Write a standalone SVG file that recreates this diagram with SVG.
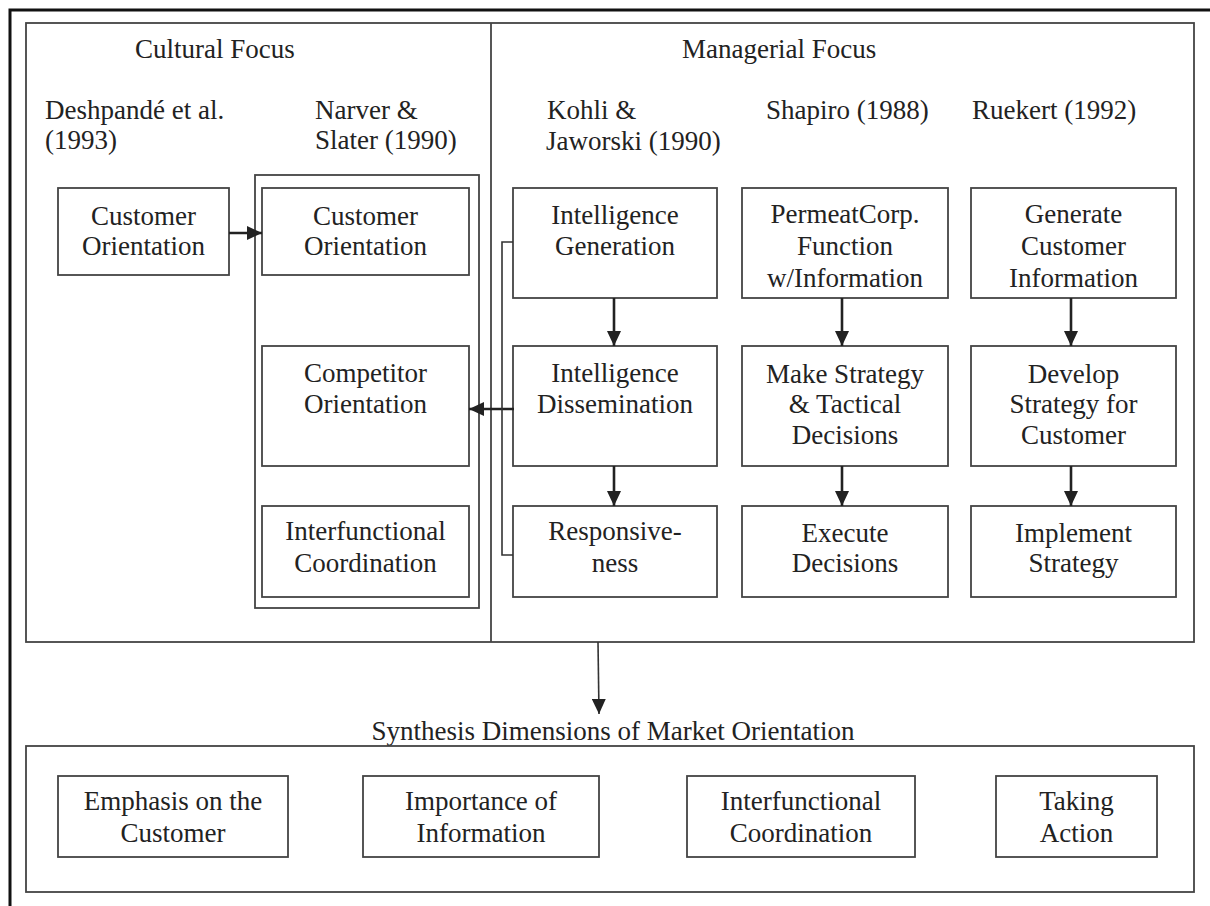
<svg xmlns="http://www.w3.org/2000/svg" width="1210" height="906" viewBox="0 0 1210 906">
<style>
text{font-family:"Liberation Serif","Times New Roman",serif;font-size:27px;fill:#222}
.c{text-anchor:middle}
.box{fill:#fff;stroke:#444;stroke-width:1.8}
.panel{fill:none;stroke:#444;stroke-width:1.8}
.arr{stroke:#222;stroke-width:2.6;fill:none}
.thin{stroke:#333;stroke-width:1.6;fill:none}
</style>
<defs>
<marker id="ah" markerUnits="userSpaceOnUse" markerWidth="16" markerHeight="14" refX="15" refY="7" orient="auto">
<path d="M0,0 L15,7 L0,14 Z" fill="#222"/>
</marker>
</defs>
<rect width="1210" height="906" fill="#fff"/>
<!-- outer frame -->
<path d="M10,906 V10 H1210" fill="none" stroke="#111" stroke-width="3"/>
<!-- panels -->
<g id="top-panel">
<rect class="panel" x="26" y="23" width="1168" height="619"/>
<line class="panel" x1="491" y1="23" x2="491" y2="642"/>
<text x="135" y="58">Cultural Focus</text>
<text x="682" y="58">Managerial Focus</text>
<text x="45" y="119">Deshpandé et al.</text>
<text x="45" y="149">(1993)</text>
<text x="315" y="119">Narver &amp;</text>
<text x="315" y="149">Slater (1990)</text>
<text x="547" y="119">Kohli &amp;</text>
<text x="546" y="150">Jaworski (1990)</text>
<text x="766" y="119">Shapiro (1988)</text>
<text x="972" y="119">Ruekert (1992)</text>
</g>
<g id="narver-group"><rect class="panel" x="255" y="175" width="224" height="433"/></g>
<g id="n-desh-customer"><rect class="box" x="58" y="188" width="171" height="87"/>
<text class="c" x="143.5" y="225">Customer</text><text class="c" x="143.5" y="255">Orientation</text></g>
<g id="n-narver-customer"><rect class="box" x="262" y="188" width="207" height="87"/>
<text class="c" x="365.5" y="225">Customer</text><text class="c" x="365.5" y="255">Orientation</text></g>
<g id="n-competitor"><rect class="box" x="262" y="346" width="207" height="120"/>
<text class="c" x="365.5" y="382">Competitor</text><text class="c" x="365.5" y="413">Orientation</text></g>
<g id="n-interfunctional"><rect class="box" x="262" y="506" width="207" height="91"/>
<text class="c" x="365.5" y="540">Interfunctional</text><text class="c" x="365.5" y="572">Coordination</text></g>
<g id="n-int-gen"><rect class="box" x="513" y="188" width="204" height="110"/>
<text class="c" x="615" y="224">Intelligence</text><text class="c" x="615" y="255">Generation</text></g>
<g id="n-int-dis"><rect class="box" x="513" y="346" width="204" height="120"/>
<text class="c" x="615" y="382">Intelligence</text><text class="c" x="615" y="413">Dissemination</text></g>
<g id="n-responsive"><rect class="box" x="513" y="506" width="204" height="91"/>
<text class="c" x="615" y="540">Responsive-</text><text class="c" x="615" y="572">ness</text></g>
<g id="n-permeat"><rect class="box" x="742" y="188" width="206" height="110"/>
<text class="c" x="845" y="223">PermeatCorp.</text><text class="c" x="845" y="255">Function</text><text class="c" x="845" y="287">w/Information</text></g>
<g id="n-make"><rect class="box" x="742" y="346" width="206" height="120"/>
<text class="c" x="845" y="383">Make Strategy</text><text class="c" x="845" y="413">&amp; Tactical</text><text class="c" x="845" y="444">Decisions</text></g>
<g id="n-execute"><rect class="box" x="742" y="506" width="206" height="91"/>
<text class="c" x="845" y="542">Execute</text><text class="c" x="845" y="572">Decisions</text></g>
<g id="n-generate"><rect class="box" x="971" y="188" width="205" height="110"/>
<text class="c" x="1073.5" y="223">Generate</text><text class="c" x="1073.5" y="255">Customer</text><text class="c" x="1073.5" y="287">Information</text></g>
<g id="n-develop"><rect class="box" x="971" y="346" width="205" height="120"/>
<text class="c" x="1073.5" y="383">Develop</text><text class="c" x="1073.5" y="413">Strategy for</text><text class="c" x="1073.5" y="444">Customer</text></g>
<g id="n-implement"><rect class="box" x="971" y="506" width="205" height="91"/>
<text class="c" x="1073.5" y="542">Implement</text><text class="c" x="1073.5" y="572">Strategy</text></g>
<g id="bottom-panel">
<text class="c" x="613" y="740">Synthesis Dimensions of Market Orientation</text>
<rect class="panel" x="26" y="746" width="1168" height="146"/>
</g>
<g id="n-emphasis"><rect class="box" x="58" y="776" width="230" height="81"/>
<text class="c" x="173" y="810">Emphasis on the</text><text class="c" x="173" y="842">Customer</text></g>
<g id="n-importance"><rect class="box" x="363" y="776" width="236" height="81"/>
<text class="c" x="481" y="810">Importance of</text><text class="c" x="481" y="842">Information</text></g>
<g id="n-interf2"><rect class="box" x="687" y="776" width="228" height="81"/>
<text class="c" x="801" y="810">Interfunctional</text><text class="c" x="801" y="842">Coordination</text></g>
<g id="n-taking"><rect class="box" x="996" y="776" width="161" height="81"/>
<text class="c" x="1076.5" y="810">Taking</text><text class="c" x="1076.5" y="842">Action</text></g>
<g id="connectors">
<line class="arr" x1="229" y1="233" x2="262" y2="233" marker-end="url(#ah)"/>
<line class="arr" x1="514" y1="409" x2="469" y2="409" marker-end="url(#ah)"/>
<polyline class="thin" points="513,242 502,242 502,555 513,555"/>
<line class="arr" x1="614" y1="298" x2="614" y2="346" marker-end="url(#ah)"/>
<line class="arr" x1="614" y1="466" x2="614" y2="506" marker-end="url(#ah)"/>
<line class="arr" x1="842" y1="298" x2="842" y2="346" marker-end="url(#ah)"/>
<line class="arr" x1="842" y1="466" x2="842" y2="506" marker-end="url(#ah)"/>
<line class="arr" x1="1071" y1="298" x2="1071" y2="346" marker-end="url(#ah)"/>
<line class="arr" x1="1071" y1="466" x2="1071" y2="506" marker-end="url(#ah)"/>
<line class="thin" x1="598" y1="642" x2="599" y2="714" marker-end="url(#ah)"/>
</g>
</svg>
